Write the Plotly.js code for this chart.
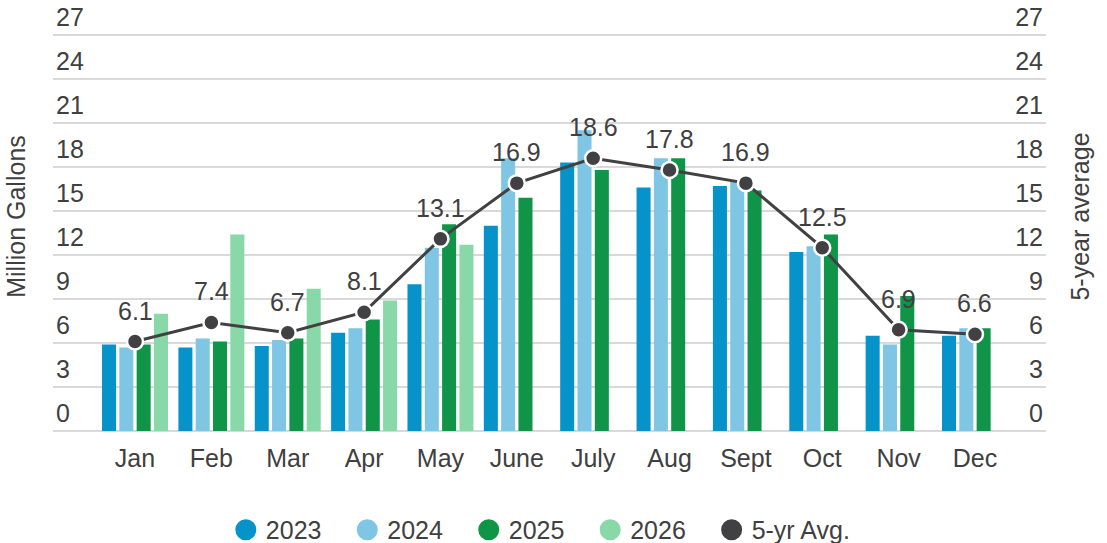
<!DOCTYPE html>
<html>
<head>
<meta charset="utf-8">
<script src="https://cdn.plot.ly/plotly-3.0.1.min.js"></script>
<style>html,body{margin:0;padding:0;background:#fff;}#chart{width:1107px;height:543px;}</style>
</head>
<body>
<div id="chart"></div>
<script>
const months = ["Jan","Feb","Mar","Apr","May","June","July","Aug","Sept","Oct","Nov","Dec"];
const y2023 = [5.9, 5.7, 5.8, 6.7, 10.0, 14.0, 18.3, 16.6, 16.7, 12.2, 6.5, 6.5];
const y2024 = [5.7, 6.3, 6.2, 7.0, 12.5, 18.6, 20.5, 18.6, 17.0, 12.6, 5.9, 7.0];
const y2025 = [5.9, 6.1, 6.3, 7.6, 14.1, 15.9, 17.8, 18.6, 16.4, 13.4, 9.2, 7.0];
const y2026 = [8.0, 13.4, 9.7, 8.9, 12.7, null, null, null, null, null, null, null];
const avg5 = [6.1, 7.4, 6.7, 8.1, 13.1, 16.9, 18.6, 17.8, 16.9, 12.5, 6.9, 6.6];
const yTicks = [0, 3, 6, 9, 12, 15, 18, 21, 24, 27];

const seriesNames = ["2023", "2024", "2025", "2026"];
const seriesVals = [y2023, y2024, y2025, y2026];
const seriesColors = ["#0593c9", "#7ec6e3", "#109447", "#88d9a7"];
const avgName = "5-yr Avg.";
const avgColor = "#414143";
const textColor = "#404040";
const font = "Liberation Sans, Arial, sans-serif";
const fs = 25;
const legendPad = "\u00a0\u00a0\u00a0";

const traces = [];
seriesVals.forEach((vals, i) => {
  traces.push({
    type: "bar", x: months, y: vals, name: seriesNames[i],
    marker: {color: seriesColors[i]}, showlegend: false, hoverinfo: "y"
  });
});
traces.push({
  type: "scatter", mode: "lines+markers", x: months, y: avg5, yaxis: "y2",
  name: avgName, showlegend: false,
  line: {color: avgColor, width: 3},
  marker: {color: avgColor, size: 16, line: {color: "#ffffff", width: 2.5}}
});
// legend entries (circles)
seriesNames.concat([avgName]).forEach((nm, i) => {
  const c = i < 4 ? seriesColors[i] : avgColor;
  traces.push({
    type: "scatter", mode: "markers", x: [null], y: [null],
    name: i < 4 ? nm + legendPad : nm,
    marker: {color: c, size: 16, symbol: "circle", line: {color: c, width: 5}},
    showlegend: true, hoverinfo: "skip"
  });
});

const annotations = avg5.map((v, i) => ({
  x: months[i], y: v, xref: "x", yref: "y2", text: v.toFixed(1),
  showarrow: false, yshift: 31,
  font: {family: font, size: fs, color: textColor}
}));

const layout = {
  width: 1107, height: 543,
  margin: {l: 53, r: 61, t: 2, b: 112},
  paper_bgcolor: "#ffffff", plot_bgcolor: "#ffffff",
  font: {family: font, size: fs, color: textColor},
  barmode: "group", bargap: 0.093, bargroupgap: 0.19,
  showlegend: true,
  legend: {
    orientation: "h", xref: "container", x: 0.204, xanchor: "left",
    y: 0.024, yref: "container", yanchor: "middle",
    font: {family: font, size: fs, color: textColor}, itemsizing: "trace",
    traceorder: "normal"
  },
  xaxis: {
    type: "category", range: [-1.074, 11.93], showgrid: false, zeroline: false,
    showline: false, ticks: "", ticklabelstandoff: 10,
    tickfont: {family: font, size: fs, color: textColor}, fixedrange: true
  },
  yaxis: {
    range: [0, 29.25], tickvals: yTicks, ticktext: yTicks.map(String),
    ticks: "", showline: false, showgrid: true, gridcolor: "#d9d9d9", gridwidth: 2,
    zeroline: true, zerolinecolor: "#d9d9d9", zerolinewidth: 2,
    ticklabelposition: "inside top",
    tickfont: {family: font, size: fs, color: textColor},
    title: {text: "Million Gallons", font: {family: font, size: fs, color: textColor}, standoff: 23},
    automargin: false, fixedrange: true
  },
  yaxis2: {
    range: [0, 29.25], overlaying: "y", side: "right", tickvals: yTicks, ticktext: yTicks.map(String),
    ticks: "", showline: false, showgrid: false, zeroline: false,
    ticklabelposition: "inside top",
    tickfont: {family: font, size: fs, color: textColor},
    title: {text: "5-year average", font: {family: font, size: fs, color: textColor}, standoff: 29},
    automargin: false, fixedrange: true
  },
  annotations: annotations
};

Plotly.newPlot("chart", traces, layout, {displayModeBar: false, staticPlot: true});
</script>
</body>
</html>
